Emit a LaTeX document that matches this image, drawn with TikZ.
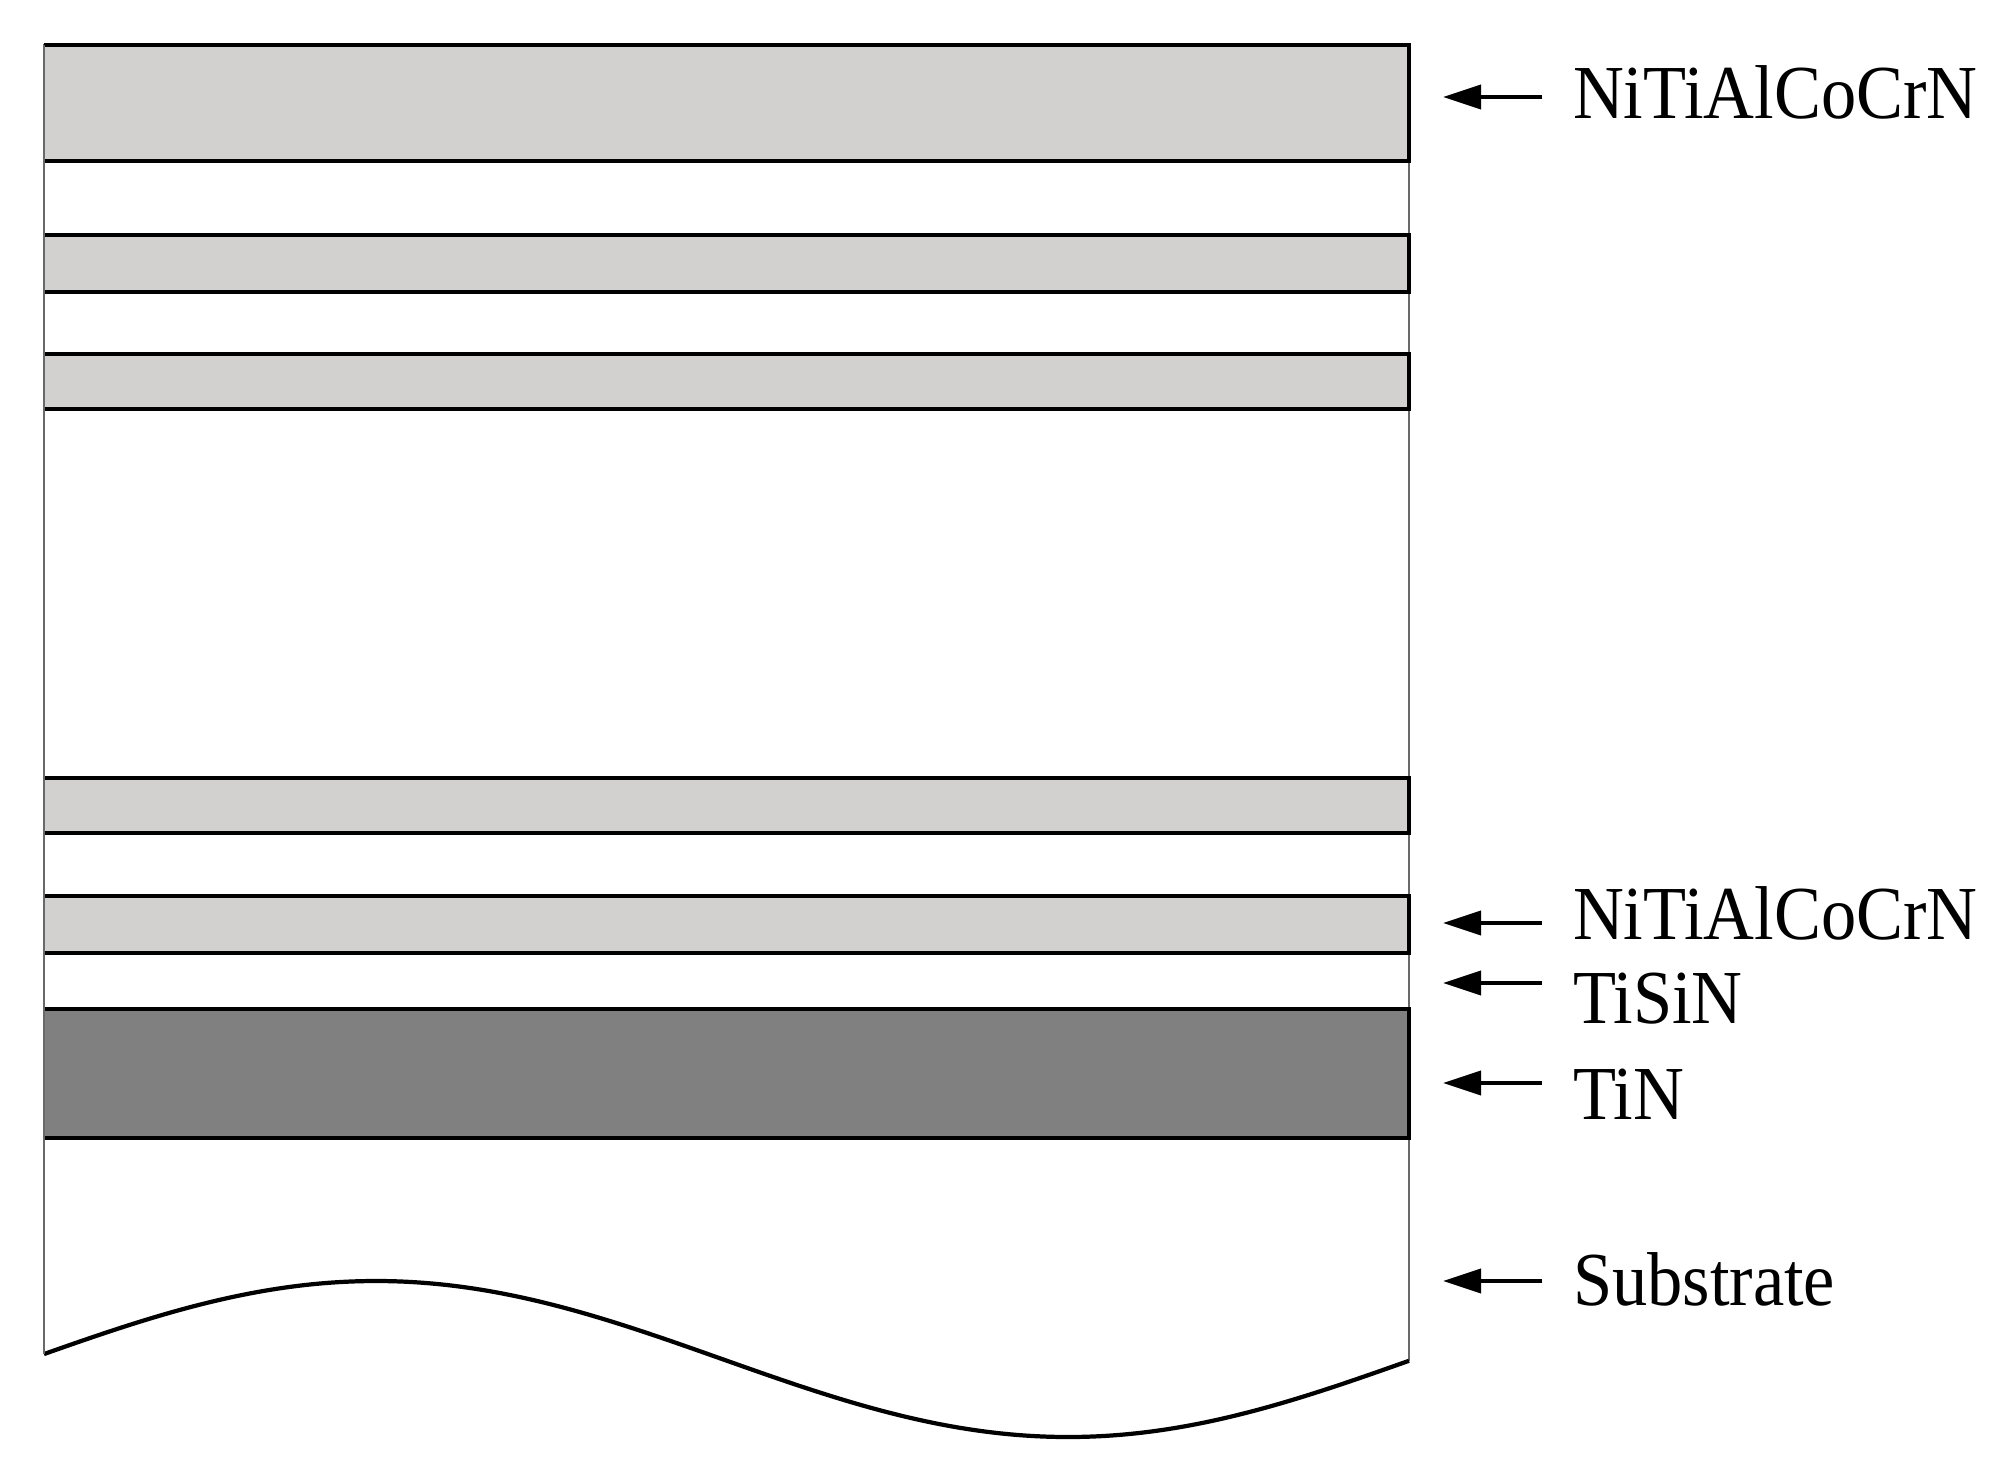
\documentclass[tikz,border=0pt]{standalone}
\usepackage{fontspec}
\setmainfont{Liberation Serif}[FakeStretch=0.923]
\usetikzlibrary{arrows.meta}
\definecolor{lightlayer}{RGB}{210,209,207}
\definecolor{darklayer}{RGB}{128,128,128}
\definecolor{edgegray}{RGB}{105,105,105}
\tikzset{
  layeredge/.style={draw=black, line width=1.15pt},
  outeredge/.style={draw=edgegray, line width=0.6pt},
  waveline/.style={draw=black, line width=1.2pt, line join=round},
  lbl/.style={anchor=base west, inner sep=0pt, outer sep=0pt,
              font=\fontsize{21.7pt}{26pt}\selectfont},
  pointer/.style={draw=black, line width=1.1pt,
                  -{Triangle[length=0.38cm, width=0.24cm]}}
}
\begin{document}
\begin{tikzpicture}[x=0.01cm, y=-0.01cm]
\useasboundingbox (0,0) rectangle (2011,1481);

% substrate outline
\draw[outeredge] (44,1354) -- (44,45) -- (1409,45) -- (1409,1361);
\draw[waveline] plot[domain=44:1409, samples=240, smooth]
   (\x, {1359 - 78*cos((\x-376)/692*180)});

% layers
\foreach \t/\b/\c in {45/161/lightlayer, 235/292/lightlayer, 354/409/lightlayer,
                      778/833/lightlayer, 896/953/lightlayer, 1009/1138/darklayer} {
  \fill[\c] (44,\t) rectangle (1409,\b);
  \draw[layeredge] (44,\t) -- (1409,\t) -- (1409,\b) -- (44,\b);
}
\draw[outeredge] (44,45) -- (44,1354);

% labels
\node[lbl] (l1) at (1573,118) {NiTiAlCoCrN};
\node[lbl] (l2) at (1573,939) {NiTiAlCoCrN};
\node[lbl] (l3) at (1573,1023) {TiSiN};
\node[lbl] (l4) at (1573,1119) {TiN};
\node[lbl] (l5) at (1573,1305) {Substrate};

% arrow ends
\coordinate (t1) at (1542,97);   \coordinate (h1) at (1443,97);
\coordinate (t2) at (1542,923);  \coordinate (h2) at (1443,923);
\coordinate (t3) at (1542,983);  \coordinate (h3) at (1443,983);
\coordinate (t4) at (1542,1083); \coordinate (h4) at (1443,1083);
\coordinate (t5) at (1542,1281); \coordinate (h5) at (1443,1281);

\draw[pointer] (t1) -- (h1);
\draw[pointer] (t2) -- (h2);
\draw[pointer] (t3) -- (h3);
\draw[pointer] (t4) -- (h4);
\draw[pointer] (t5) -- (h5);
\end{tikzpicture}
\end{document}
